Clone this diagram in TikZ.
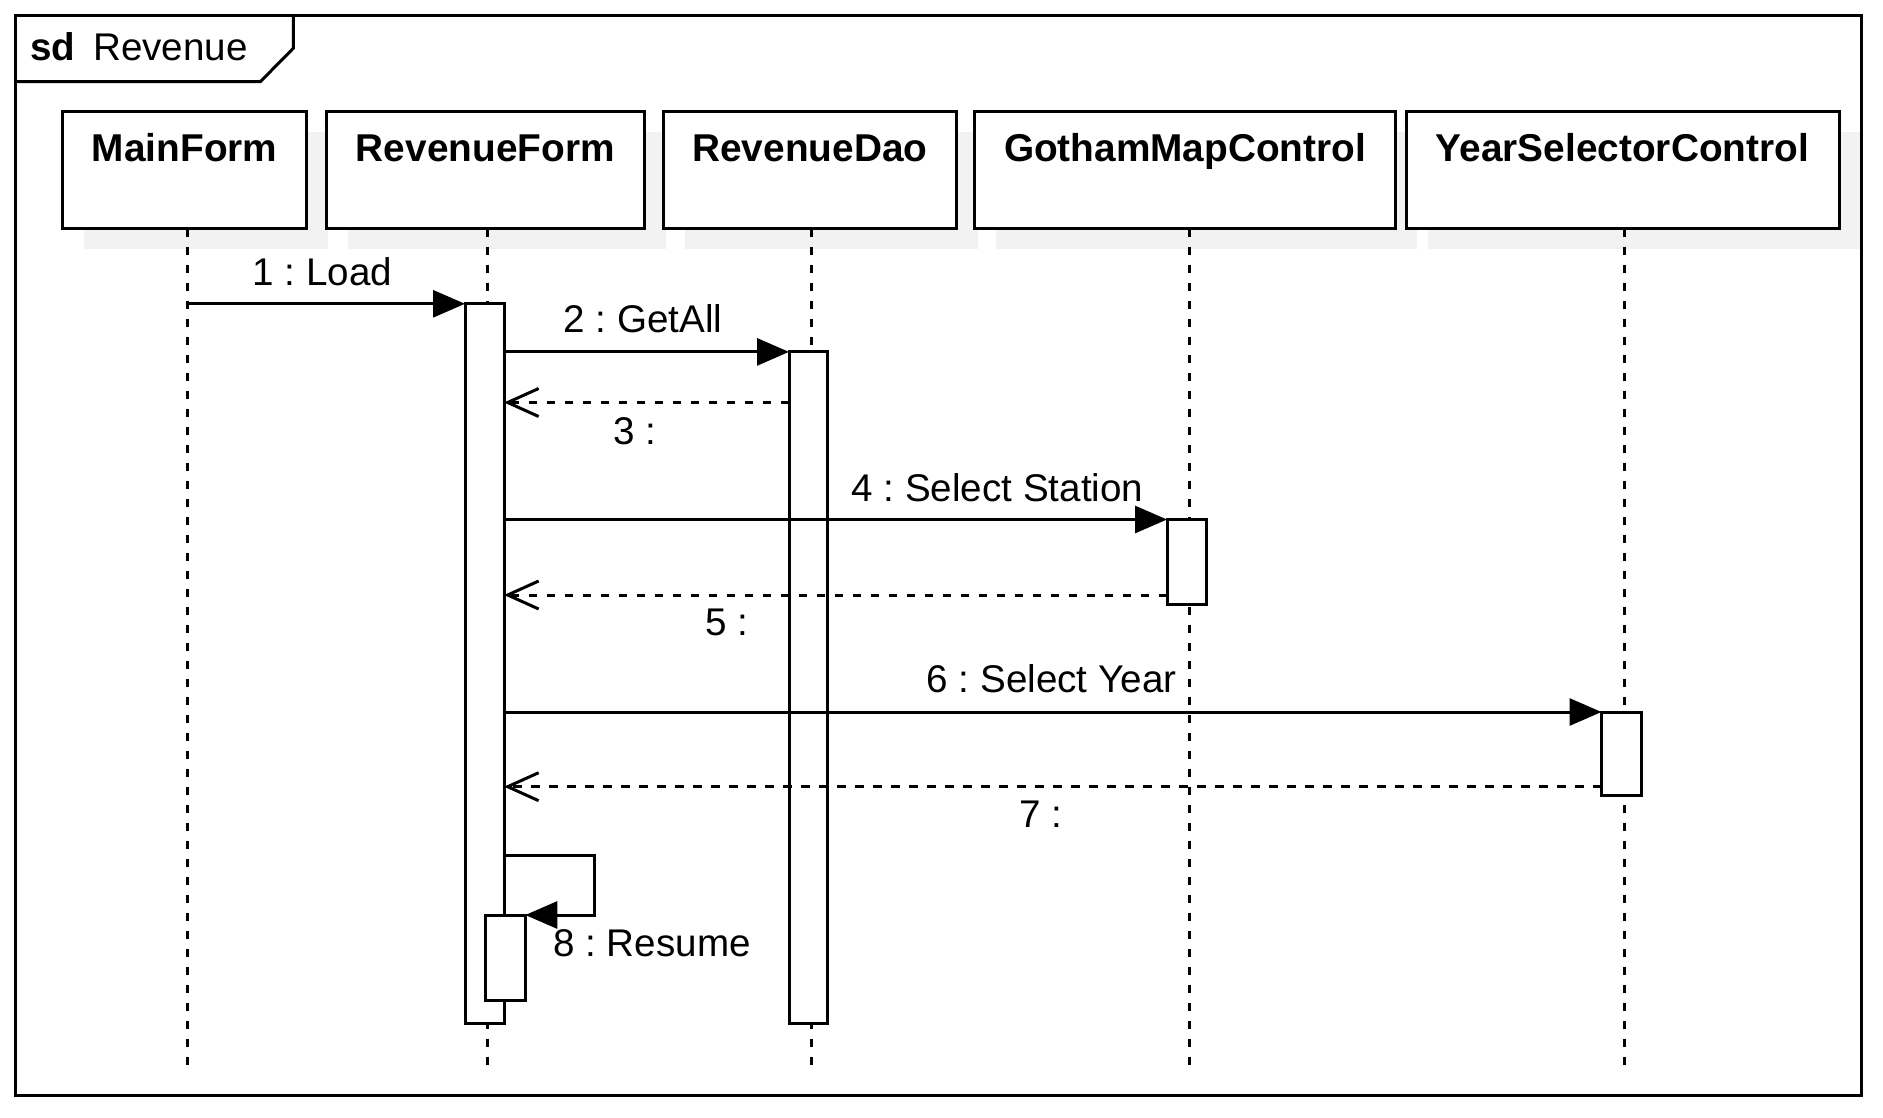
\documentclass[tikz,border=0pt]{standalone}
\usepackage{fontspec}
\setmainfont{Liberation Sans}
\usetikzlibrary{arrows.meta,backgrounds}
\definecolor{shadowgray}{HTML}{F2F2F2}
\frenchspacing
\begin{document}
\begin{tikzpicture}[x=1pt,y=-1pt, line width=3pt,
  txt/.style={font=\fontsize{38.6}{46}\selectfont},
  lifebox/.style={draw, fill=white, inner sep=0pt, outer sep=0pt, anchor=north west,
    font=\fontsize{38.8}{46}\selectfont\bfseries, text height=50pt, text depth=66.8pt, minimum height=116.8pt},
  act/.style={draw, fill=white, inner sep=0pt, outer sep=0pt, anchor=north west},
  lifeline/.style={dash pattern=on 8.3pt off 9.7pt},
  call/.style={-{Triangle[length=32pt,width=27pt]}},
  reply/.style={dash pattern=on 8.3pt off 9.7pt, -{Straight Barb[length=31pt,width=28pt]}},
  lbl/.style={txt, anchor=base, inner sep=0pt}
]
\useasboundingbox (0,0) rectangle (1883,1117);

% frame
\draw (15.5,15) rectangle (1861,1095);
\draw (15.5,81.5) -- (260.5,81.5) -- (293.3,48.3) -- (293.3,15);
\node[txt, anchor=base west, inner sep=0pt] (title) at (29,60) {\textbf{sd}\hspace{17.8pt}Revenue};

% lifeline heads
\node[lifebox, minimum width=244.2pt] (mf) at (62.5,111.7) {MainForm};
\node[lifebox, minimum width=317.9pt] (rf) at (326.3,111.7) {RevenueForm};
\node[lifebox, minimum width=293.8pt] (dao) at (663,111.7) {RevenueDao};
\node[lifebox, minimum width=420.6pt] (gm) at (974.8,111.7) {GothamMapControl};
\node[lifebox, minimum width=433pt] (ys) at (1406,111.7) {YearSelectorControl};

\begin{scope}[on background layer]
  \foreach \n in {mf,rf,dao,gm,ys}
    \fill[shadowgray] ([shift={(21.5,20.5)}]\n.north west) rectangle ([shift={(21.5,20.5)}]\n.south east);
\end{scope}

% lifelines
\coordinate (mfL) at (187.5,1066);
\coordinate (rfL) at (487.7,1066);
\coordinate (daoL) at (811.3,1066);
\coordinate (gmL) at (1189,1066);
\coordinate (ysL) at (1624.8,1066);
\draw[lifeline] (mf.south -| mfL) -- (mfL);
\draw[lifeline] (rf.south -| rfL) -- (rfL);
\draw[lifeline] (dao.south -| daoL) -- (daoL);
\draw[lifeline] (gm.south -| gmL) -- (gmL);
\draw[lifeline] (ys.south -| ysL) -- (ysL);

% activations
\node[act, minimum width=39pt, minimum height=719.5pt] (actRF) at (465,303.8) {};
\node[act, minimum width=38.3pt, minimum height=671.4pt] (actDao) at (789,351.9) {};
\node[act, minimum width=39.4pt, minimum height=84.5pt] (actGM) at (1167,519.5) {};
\node[act, minimum width=40pt, minimum height=83.7pt] (actYS) at (1601.5,712) {};
\node[act, minimum width=40.3pt, minimum height=85pt] (actRF2) at (485,915) {};

% messages
\draw[call] (mfL |- actRF.north) -- (actRF.north west);
\draw[call] (actRF.east |- actDao.north) -- (actDao.north west);
\draw[reply] (actDao.west |- 0,402.5) -- (actRF.east |- 0,402.5);
\draw[call] (actRF.east |- actGM.north) -- (actGM.north west);
\draw[reply] (actGM.west |- 0,595) -- (actRF.east |- 0,595);
\draw[call] (actRF.east |- actYS.north) -- (actYS.north west);
\draw[reply] (actYS.west |- 0,786.7) -- (actRF.east |- 0,786.7);
\coordinate (selfTurn) at (594,855.5);
\draw[call] (actRF.east |- selfTurn) -- (selfTurn) -- (selfTurn |- actRF2.north) -- (actRF2.north east);

% labels
\node[lbl] (l1) at (322.5,285) {1 : Load};
\node[lbl] (l2) at (642.8,332.3) {2 : GetAll};
\node[lbl] (l3) at (634.5,444.5) {3 :};
\node[lbl] (l4) at (997.5,501) {4 : Select Station};
\node[lbl] (l5) at (726.5,635.5) {5 :};
\node[lbl] (l6) at (1051.5,692) {6 : Select Year};
\node[lbl] (l7) at (1041.2,827.7) {7 :};
\node[lbl] (l8) at (652,956) {8 : Resume};
\end{tikzpicture}
\end{document}
